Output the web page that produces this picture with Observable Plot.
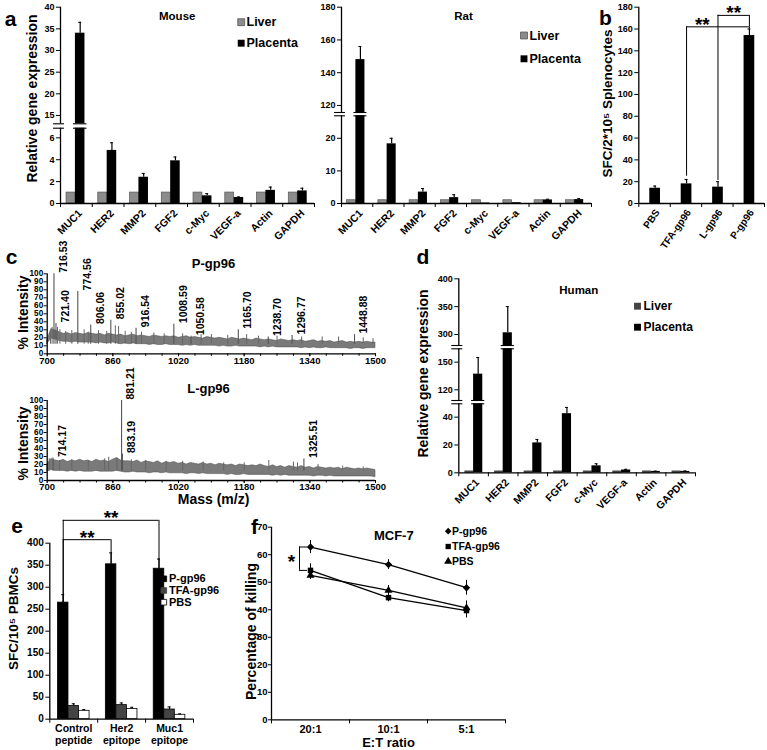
<!DOCTYPE html>
<html><head><meta charset="utf-8">
<script src="https://cdn.jsdelivr.net/npm/d3@7"></script>
<script src="https://cdn.jsdelivr.net/npm/@observablehq/plot@0.6"></script>
<style>
body{margin:0;background:#fff;}
#root{position:relative;width:767px;height:750px;overflow:hidden;background:#fff;}
#root svg{position:absolute;left:0;top:0;}
</style></head><body><div id="root"></div>
<script>
// ---------- DATA ----------
const genes = ["MUC1","HER2","MMP2","FGF2","c-Myc","VEGF-a","Actin","GAPDH"];
const mouseLiver = [1,1,1,1,1,1,1,1];
const mousePlacenta = [34,4.85,2.4,3.9,0.7,0.55,1.2,1.15];
const mouseErr = [2.5,0.7,0.35,0.35,0.2,0.05,0.3,0.25];
const mouseTicks = [0,2,4,6,15,20,25,30,35,40];
const mouseBreak = [6.88,13.08];          // axis break (value range cut out)

const ratLiver = [1,1,1,1,1,1,1,1];
const ratPlacenta = [148,18.3,3.5,1.8,0.15,0.25,1.1,1.2];
const ratErr = [8,1.7,1.1,0.9,0,0,0.2,0.3];
const ratTicks = [0,10,20,120,140,160,180];
const ratBreak = [26.9,115.7];

const humanLiver = [1,1,1,1,1,1,1,1];
const humanPlacenta = [137,303,21.5,42.5,5,2,1,1];
const humanErr = [18,47,2.5,4.5,1.5,0.5,0.2,0.3];
const humanTicks = [0,20,40,120,150,300,350,400];
const humanBreakLow = [49.6,108.4];
const humanBreakHigh = [164.5,280.2];

const bGroups = ["PBS","TFA-gp96","L-gp96","P-gp96"];
const bValues = [14,18,15,154];
const bErr = [2,4,5,6];
const bTicks = [0,20,40,60,80,100,120,140,160,180];
const bSig = [
  {from:"TFA-gp96", to:"P-gp96", y:162, yFrom:25, yTo:160, label:"**"},
  {from:"L-gp96", to:"P-gp96", y:172.5, yFrom:21, yTo:162, label:"**"}
];

// spectra (m/z every 10 from 700 to 1500): noise envelope, % intensity
const specStart = 700, specStep = 10;
const pHi = [17,31,29,27,25,26,24,26,25,24, 26,25,24,25,23,25,24,23,24,22, 23,24,22,23,22,21,23,22,21,22,
  21,22,20,21,22,20,21,20,19,21, 20,19,20,19,18,20,19,18,19,18, 17,19,18,17,18,17,16,18,17,16,
  17,16,17,15,16,17,15,16,15,16, 14,15,16,14,15,14,15,14,15,14, 14];
const pLo = [12,19,18,16,15,15,14,15,14,14, 14,14,13,14,13,13,14,13,12,13, 12,13,12,12,12,11,12,11,11,12,
  11,11,11,10,11,10,11,10,10,10, 10,10,9,10,9,9,10,9,9,9, 9,9,8,9,8,9,8,8,8,8,
  8,8,7,8,7,8,7,7,8,7, 7,7,7,7,6,7,7,6,7,7, 7];
const pPeakMz  = [716.53,721.40,774.56,806.06,855.02,916.54,1008.59,1050.58,1165.70,1238.70,1296.77,1448.88];
const pPeakInt = [100,38,78,36,42,32,37,22,30,21,23,24];
const pSpikeMz  = [708,712,725,731,745,760,790,800,825,845,866,874,890,905,930,960,985,1030,1075,1100,1140,1186,1215,1260,1320,1370,1410,1470,1494];
const pSpikeInt = [27,33,33,30,28,29,30,27,29,28,35,34,28,27,27,26,25,25,24,24,23,24,22,22,21,21,21,20,19];

const lHi = [20,27,25,24,26,23,25,24,26,24, 25,23,26,24,25,23,26,28,25,24, 24,23,25,22,24,23,22,24,21,23,
  22,23,21,22,20,22,21,20,22,20, 21,19,21,20,19,20,18,20,19,18, 19,18,20,18,17,19,17,18,16,18,
  17,16,18,16,17,15,17,16,15,16, 15,16,14,16,15,14,15,14,15,14, 13];
const lLo = [11,13,12,12,12,11,12,11,12,11, 11,11,12,11,11,11,11,12,11,10, 10,11,10,10,10,9,10,10,9,10,
  9,9,9,9,8,9,9,8,9,8, 8,8,8,8,7,8,7,7,8,7, 7,7,7,7,7,6,7,6,7,6,
  6,6,6,6,6,5,6,6,5,6, 5,5,5,5,5,5,5,5,5,5, 4];
const lPeakMz  = [714.17,881.21,883.19,1325.51];
const lPeakInt = [28,100,33,27];
const lSpikeMz  = [705,730,760,800,840,850,870,905,940,990,1030,1080,1130,1180,1240,1300,1310,1360,1420,1470];
const lSpikeInt = [27,25,26,25,27,29,28,26,25,24,24,23,22,22,25,23,22,20,18,17];
const specXTicks = [700,860,1020,1180,1340,1500];

const eGroups = ["Control\npeptide","Her2\nepitope","Muc1\nepitope"];
const eSeries = ["P-gp96","TFA-gp96","PBS"];
const eP = [265,352,342], ePErr = [18,26,22];
const eTFA = [30,32,22], eTFAErr = [5,5,6];
const ePBS = [19,23,10], ePBSErr = [3,4,2];
const eTicks = [0,50,100,150,200,250,300,350,400];
const eSig = [
  {from:"Control\npeptide", to:"Her2\nepitope", y:408, label:"**"},
  {from:"Control\npeptide", to:"Muc1\nepitope", y:452, label:"**"}
];

const ratios = ["20:1","10:1","5:1"];
const fP = [62.8,56.4,48], fPErr = [2.4,1.8,2.7];
const fTFA = [54.3,44.4,39.7], fTFAErr = [2.4,1.5,2.7];
const fPBS = [52.5,47,40.7], fPBSErr = [1.5,1.8,2.5];
const fTicks = [0,10,20,30,40,50,60,70];

// ---------- HELPERS ----------
const FONT = '"Liberation Sans", Arial, Helvetica, sans-serif';
const W = 767, H = 750;
const root = document.getElementById("root");
function mk(l, t, r, b, opts) {
  const p = Plot.plot({
    width: W, height: H,
    marginLeft: l, marginTop: t, marginRight: W - r, marginBottom: H - b,
    style: {background: "transparent", fontFamily: FONT, fontWeight: "bold", fontSize: "9px", color: "#000", overflow: "visible"},
    ...opts
  });
  root.appendChild(p);
}
const T = (str, x, y, o = {}) => Plot.text([str], {text: d => d, frameAnchor: "top-left", textAnchor: "middle", lineAnchor: "middle", dx: x, dy: y, fontSize: 12, fill: "#000", ...o});
const SQ = (x, y, fill, stroke = "none", symbol = "square", r = 3.9) =>
  Plot.dot([0], {frameAnchor: "top-left", dx: x, dy: y, symbol, r, fill, stroke, strokeWidth: 0.8});

// ---------- GENE PANELS (a, d) with broken y axis drawn as stacked segments ----------
function genePanel({left, right, segs, ticks, liver, plac, err, breakBars, liverFill, liverStroke, frac}) {
  const n = genes.length, u = n / (right - left);
  const rows = genes.map((g, i) => ({i, g, liver: liver[i], plac: plac[i], top: plac[i] + err[i]}));
  const [a, b, c] = frac, mid = (b + c) / 2;
  segs.forEach((s, k) => {
    const first = k === 0, last = k === segs.length - 1;
    const ppu = (s.bottom - s.top) / (s.hi - s.lo);
    const next = segs[k + 1];
    const brk = last ? [] : breakBars[k];
    // bars that run into the gap without a drawn break are extended through it
    const fillTo = d => (!last && !brk.includes(d.g)) ? s.hi + (s.top - next.bottom) / ppu : s.hi;
    const lowY = first ? 0 : s.lo;
    const pl = rows.filter(d => d.plac > lowY).map(d => ({...d, y1: lowY, y2: Math.min(d.plac, d.plac > s.hi ? fillTo(d) : s.hi)}));
    const lv = rows.filter(d => d.liver > lowY).map(d => ({...d, y1: lowY, y2: Math.min(d.liver, s.hi)}));
    const eb = rows.filter(d => d.top > d.plac && d.top > s.lo && d.plac < s.hi)
      .map(d => ({...d, e1: Math.max(d.plac, s.lo), e2: Math.min(d.top, s.hi)}));
    const cap = rows.filter(d => d.top > d.plac && d.top >= s.lo && d.top <= s.hi);
    const marks = [
      Plot.rectY(lv, {x1: d => d.i + a, x2: d => d.i + b, y1: "y1", y2: "y2", fill: liverFill, stroke: liverStroke, strokeWidth: 0.7}),
      Plot.rectY(pl, {x1: d => d.i + b, x2: d => d.i + c, y1: "y1", y2: "y2", fill: "#000"}),
      Plot.ruleX(eb, {x: d => d.i + mid, y1: "e1", y2: "e2", strokeWidth: 1.2}),
      Plot.ruleY(cap, {y: "top", x1: d => d.i + mid - 1.5 * u, x2: d => d.i + mid + 1.5 * u, strokeWidth: 1}),
      Plot.ruleX([0], {strokeWidth: 1.3}),
      Plot.axisY({ticks: ticks.filter(t => t >= s.lo && t <= s.hi), tickFormat: d => d, tickSize: 4, tickPadding: 2, fontSize: 9, label: null})
    ];
    if (first) marks.push(
      Plot.ruleY([0], {strokeWidth: 1.3}),
      Plot.axisX({ticks: d3.range(n + 1), tickFormat: () => "", tickSize: 4, label: null}),
      Plot.text(rows, {x: d => d.i + 0.5, y: 0, text: "g", rotate: -45, textAnchor: "end", dx: 4, dy: 8, fontSize: 10.5})
    );
    // break marks: double line on the axis and on the bars cut by the break
    const edges = [];
    if (!last) edges.push({y: s.hi, cats: breakBars[k]});
    if (!first) edges.push({y: s.lo, cats: breakBars[k - 1]});
    for (const e of edges) {
      marks.push(Plot.ruleY([e.y], {x1: -7 * u, x2: 4 * u, strokeWidth: 1.1}));
      const bars = rows.filter(d => e.cats.includes(d.g));
      marks.push(Plot.ruleY(bars, {y: () => e.y, x1: d => d.i + b - 2 * u, x2: d => d.i + c + 2 * u, strokeWidth: 1.1}));
    }
    mk(left, s.top, right, s.bottom, {x: first ? {domain: [0, n]} : {domain: [0, n], axis: null}, y: {domain: [s.lo, s.hi]}, marks});
  });
}

genePanel({left: 60, right: 314,
  segs: [{lo: 0, hi: mouseBreak[0], bottom: 203, top: 127.7}, {lo: mouseBreak[1], hi: 40, bottom: 123.3, top: 6.7}],
  ticks: mouseTicks, liver: mouseLiver, plac: mousePlacenta, err: mouseErr, breakBars: [["MUC1"]],
  liverFill: "#8c8c8c", liverStroke: "#555", frac: [0.19, 0.47, 0.77]});

genePanel({left: 341, right: 591,
  segs: [{lo: 0, hi: ratBreak[0], bottom: 203, top: 115.3}, {lo: ratBreak[1], hi: 180, bottom: 112, top: 6.7}],
  ticks: ratTicks, liver: ratLiver, plac: ratPlacenta, err: ratErr, breakBars: [["MUC1"]],
  liverFill: "#8c8c8c", liverStroke: "#555", frac: [0.18, 0.46, 0.75]});

genePanel({left: 458.3, right: 695,
  segs: [{lo: 0, hi: humanBreakLow[0], bottom: 472.3, top: 403.3},
         {lo: humanBreakLow[1], hi: humanBreakHigh[0], bottom: 400, top: 348.3},
         {lo: humanBreakHigh[1], hi: 400, bottom: 345, top: 278.3}],
  ticks: humanTicks, liver: humanLiver, plac: humanPlacenta, err: humanErr, breakBars: [["MUC1"], ["HER2"]],
  liverFill: "#444", liverStroke: "#444", frac: [0.22, 0.5, 0.81]});

// ---------- PANEL b ----------
{
  const left = 638.3, right = 764, n = bGroups.length, u = n / (right - left);
  const rows = bGroups.map((g, i) => ({i, g, v: bValues[i], top: bValues[i] + bErr[i]}));
  const idx = g => bGroups.indexOf(g) + 0.52;
  mk(left, 6.7, right, 203, {
    x: {domain: [0, n]}, y: {domain: [0, 180]},
    marks: [
      Plot.rectY(rows, {x1: d => d.i + 0.35, x2: d => d.i + 0.69, y1: 0, y2: "v", fill: "#000"}),
      Plot.ruleX(rows, {x: d => d.i + 0.52, y1: "v", y2: "top", strokeWidth: 1.2}),
      Plot.ruleY(rows, {y: "top", x1: d => d.i + 0.52 - 1.5 * u, x2: d => d.i + 0.52 + 1.5 * u}),
      Plot.ruleX([0], {strokeWidth: 1.3}), Plot.ruleY([0], {strokeWidth: 1.3}),
      Plot.axisY({ticks: bTicks, tickFormat: d => d, tickSize: 4, tickPadding: 2, fontSize: 9, label: null}),
      Plot.axisX({ticks: d3.range(n + 1), tickFormat: () => "", tickSize: 4, label: null}),
      Plot.text(rows, {x: d => d.i + 0.5, y: 0, text: "g", rotate: -55, textAnchor: "end", dx: 3, dy: 7, fontSize: 10}),
      Plot.ruleY(bSig, {y: "y", x1: d => idx(d.from), x2: d => idx(d.to), strokeWidth: 1}),
      Plot.ruleX(bSig, {x: d => idx(d.from), y1: "yFrom", y2: "y", strokeWidth: 1}),
      Plot.ruleX(bSig, {x: d => idx(d.to), y1: "yTo", y2: "y", strokeWidth: 1}),
      Plot.text(bSig, {x: d => idx(d.from) + 0.5, y: "y", text: "label", lineAnchor: "bottom", dy: 4, fontSize: 19})
    ]
  });
}

// ---------- PANEL c ----------
function spectrum({top, bottom, hi, lo, peakMz, peakInt, spikeMz, spikeInt}) {
  const rows = hi.map((h, i) => ({mz: specStart + specStep * i, hi: h, lo: lo[i]}));
  const peaks = peakMz.map((m, i) => ({mz: m, int: peakInt[i], label: m.toFixed(2)}));
  const spikes = spikeMz.map((m, i) => ({mz: m, int: spikeInt[i]}));
  mk(46.7, top, 375, bottom, {
    x: {domain: [700, 1500]}, y: {domain: [0, 100]},
    marks: [
      Plot.areaY(rows, {x: "mz", y1: "lo", y2: "hi", fill: "#7a7a7a", stroke: "#4a4a4a", strokeWidth: 0.5}),
      Plot.ruleX(spikes, {x: "mz", y1: 12, y2: "int", stroke: "#666", strokeWidth: 1}),
      Plot.ruleX(peaks, {x: "mz", y1: 12, y2: "int", stroke: "#555", strokeWidth: 1.1}),
      Plot.ruleX([700], {strokeWidth: 1.3}), Plot.ruleY([0], {strokeWidth: 1.3}),
      Plot.axisY({ticks: d3.range(0, 101, 10), tickFormat: d => d, tickSize: 3, tickPadding: 1, fontSize: 8.2, label: null}),
      Plot.axisX({ticks: d3.range(700, 1501, 40), tickFormat: () => "", tickSize: 2.5, label: null}),
      Plot.axisX({ticks: specXTicks, tickFormat: d => String(d), tickSize: 3, tickPadding: 0, fontSize: 9.5, label: null}),
      Plot.text(peaks, {x: "mz", y: "int", text: "label", rotate: -90, textAnchor: "start", dx: 9.5, dy: -1, fontSize: 10.5})
    ]
  });
}
spectrum({top: 273.3, bottom: 353.3, hi: pHi, lo: pLo, peakMz: pPeakMz, peakInt: pPeakInt, spikeMz: pSpikeMz, spikeInt: pSpikeInt});
spectrum({top: 400, bottom: 480, hi: lHi, lo: lLo, peakMz: lPeakMz, peakInt: lPeakInt, spikeMz: lSpikeMz, spikeInt: lSpikeInt});

// ---------- PANEL e ----------
{
  const left = 49.3, right = 193, n = eGroups.length, u = n / (right - left);
  const vals = [eP, eTFA, ePBS], errs = [ePErr, eTFAErr, ePBSErr];
  const fills = ["#000", "#444", "#fff"];
  const off = [0.17, 0.39, 0.61], w = 0.22;
  const rows = [];
  eGroups.forEach((g, i) => eSeries.forEach((s, k) => rows.push({i, g, s, k, v: vals[k][i], top: vals[k][i] + errs[k][i]})));
  const pCenter = g => eGroups.indexOf(g) + off[0] + w / 2;
  mk(left, 542.7, right, 718.7, {
    x: {domain: [0, n]}, y: {domain: [0, 400]},
    marks: [
      Plot.rectY(rows, {x1: d => d.i + off[d.k], x2: d => d.i + off[d.k] + w, y1: 0, y2: "v", fill: d => fills[d.k], stroke: "#000", strokeWidth: 0.8}),
      Plot.ruleX(rows, {x: d => d.i + off[d.k] + w / 2, y1: "v", y2: "top", strokeWidth: 1.1}),
      Plot.ruleY(rows, {y: "top", x1: d => d.i + off[d.k] + w / 2 - 1.5 * u, x2: d => d.i + off[d.k] + w / 2 + 1.5 * u}),
      Plot.ruleX([0], {strokeWidth: 1.3}), Plot.ruleY([0], {strokeWidth: 1.3}),
      Plot.axisY({ticks: eTicks, tickFormat: d => d, tickSize: 4, tickPadding: 2, fontSize: 10, label: null}),
      Plot.axisX({ticks: d3.range(n + 1), tickFormat: () => "", tickSize: 4, label: null}),
      Plot.text(eGroups, {x: (d, i) => i + 0.5, y: 0, text: d => d, lineAnchor: "top", dy: 5, fontSize: 10.5, lineHeight: 1.1}),
      Plot.ruleY(eSig, {y: "y", x1: d => pCenter(d.from), x2: d => pCenter(d.to), strokeWidth: 1}),
      Plot.ruleX(eSig, {x: d => pCenter(d.from), y1: d => eP[eGroups.indexOf(d.from)], y2: "y", strokeWidth: 1}),
      Plot.ruleX(eSig, {x: d => pCenter(d.to), y1: d => eP[eGroups.indexOf(d.to)], y2: "y", strokeWidth: 1}),
      Plot.text(eSig, {x: d => (pCenter(d.from) + pCenter(d.to)) / 2, y: "y", text: "label", lineAnchor: "bottom", dy: 4, fontSize: 19})
    ]
  });
}

// ---------- PANEL f ----------
{
  const left = 271, right = 505, n = ratios.length, u = n / (right - left);
  const series = [["P-gp96", fP, fPErr, "diamond2", 4.4], ["TFA-gp96", fTFA, fTFAErr, "square", 3.8], ["PBS", fPBS, fPBSErr, "triangle", 3.6]];
  const rows = series.flatMap(([s, v, e, sym, r]) => ratios.map((q, i) => ({s, i, v: v[i], e: e[i], sym, r})));
  const br = [{y1: fP[0], y2: fTFA[0], i: 0}];
  mk(left, 526.7, right, 719.3, {
    x: {domain: [0, n]}, y: {domain: [0, 70]},
    symbol: {type: "identity"},
    marks: [
      Plot.ruleX(rows, {x: d => d.i + 0.5, y1: d => d.v - d.e, y2: d => d.v + d.e, strokeWidth: 1}),
      Plot.line(rows, {x: d => d.i + 0.5, y: "v", z: "s", stroke: "#000", strokeWidth: 1.3}),
      Plot.dot(rows, {x: d => d.i + 0.5, y: "v", symbol: "sym", r: "r", fill: "#000"}),
      Plot.ruleX(br, {x: d => d.i + 0.5 - 11 * u, y1: "y1", y2: "y2", strokeWidth: 1}),
      Plot.ruleY(br.flatMap(d => [d.y1, d.y2]), {x1: 0.5 - 11 * u, x2: 0.5 - 3 * u, strokeWidth: 1}),
      Plot.text(br, {x: d => d.i + 0.5 - 11 * u, y: d => (d.y1 + d.y2) / 2, text: () => "*", dx: -8, dy: 3, fontSize: 19}),
      Plot.ruleX([0], {strokeWidth: 1.3}), Plot.ruleY([0], {strokeWidth: 1.3}),
      Plot.axisY({ticks: fTicks, tickFormat: d => d, tickSize: 3, tickPadding: 1, fontSize: 9.5, label: null}),
      Plot.axisX({ticks: d3.range(n + 1), tickFormat: () => "", tickSize: 4, label: null}),
      Plot.text(ratios, {x: (d, i) => i + 0.5, y: 0, text: d => d, lineAnchor: "top", dy: 5, fontSize: 11})
    ]
  });
}

// ---------- TEXT OVERLAY ----------
mk(0, 0, W, H, {
  marks: [
    T("a", 10, 19, {fontSize: 21}), T("b", 605, 18, {fontSize: 21}), T("c", 11, 257, {fontSize: 21}),
    T("d", 422.5, 257, {fontSize: 21}), T("e", 16.7, 526, {fontSize: 21}), T("f", 254, 527, {fontSize: 21}),
    T("Mouse", 176.7, 16, {fontSize: 11.5}), T("Rat", 463, 16, {fontSize: 11.5}), T("Human", 578.3, 290, {fontSize: 11.5}),
    T("Relative gene expression", 31.7, 98, {fontSize: 14, rotate: -90}),
    T("Relative gene expression", 423.3, 373, {fontSize: 14, rotate: -90}),
    T("SFC/2*10⁵ Splenocytes", 606.7, 103, {fontSize: 13.5, rotate: -90}),
    SQ(240.7, 21.7, "#8c8c8c", "#555"), T("Liver", 246, 21.7, {textAnchor: "start", fontSize: 12.5}),
    SQ(240.7, 42.7, "#000"), T("Placenta", 246, 42.7, {textAnchor: "start", fontSize: 12.5}),
    SQ(523.5, 35, "#8c8c8c", "#555"), T("Liver", 529, 35, {textAnchor: "start", fontSize: 12.5}),
    SQ(523.5, 58.3, "#000"), T("Placenta", 529, 58.3, {textAnchor: "start", fontSize: 12.5}),
    SQ(637, 305.7, "#444"), T("Liver", 643, 305.7, {textAnchor: "start", fontSize: 12}),
    SQ(637, 326.7, "#000"), T("Placenta", 643, 326.7, {textAnchor: "start", fontSize: 12}),
    T("P-gp96", 213, 263.3, {fontSize: 13}), T("L-gp96", 208, 388.3, {fontSize: 13}),
    T("% Intensity", 23.3, 312, {fontSize: 14, rotate: -90}), T("% Intensity", 23.3, 443, {fontSize: 14, rotate: -90}),
    T("Mass (m/z)", 213, 499, {fontSize: 14}),
    T("SFC/10⁵ PBMCs", 13.3, 618, {fontSize: 13.5, rotate: -90}),
    SQ(163.3, 578.3, "#000", "#000", "square", 3.2), T("P-gp96", 168.5, 578.3, {textAnchor: "start", fontSize: 11}),
    SQ(163.3, 590, "#444", "#444", "square", 3.2), T("TFA-gp96", 168.5, 590, {textAnchor: "start", fontSize: 11}),
    SQ(163.3, 601.7, "#fff", "#000", "square", 3.2), T("PBS", 168.5, 601.7, {textAnchor: "start", fontSize: 11}),
    T("Percentage of killing", 250.7, 631, {fontSize: 14, rotate: -90}),
    T("MCF-7", 393.3, 535, {fontSize: 13}),
    SQ(447.7, 530.7, "#000", "none", "diamond2", 3), T("P-gp96", 451.5, 530.7, {textAnchor: "start", fontSize: 10.5}),
    SQ(447.7, 546, "#000", "none", "square", 3), T("TFA-gp96", 451.5, 546, {textAnchor: "start", fontSize: 10.5}),
    SQ(447.7, 561, "#000", "none", "triangle", 3), T("PBS", 451.5, 561, {textAnchor: "start", fontSize: 10.5}),
    T("E:T ratio", 388, 742, {fontSize: 13})
  ]
});
</script>
</body></html>
